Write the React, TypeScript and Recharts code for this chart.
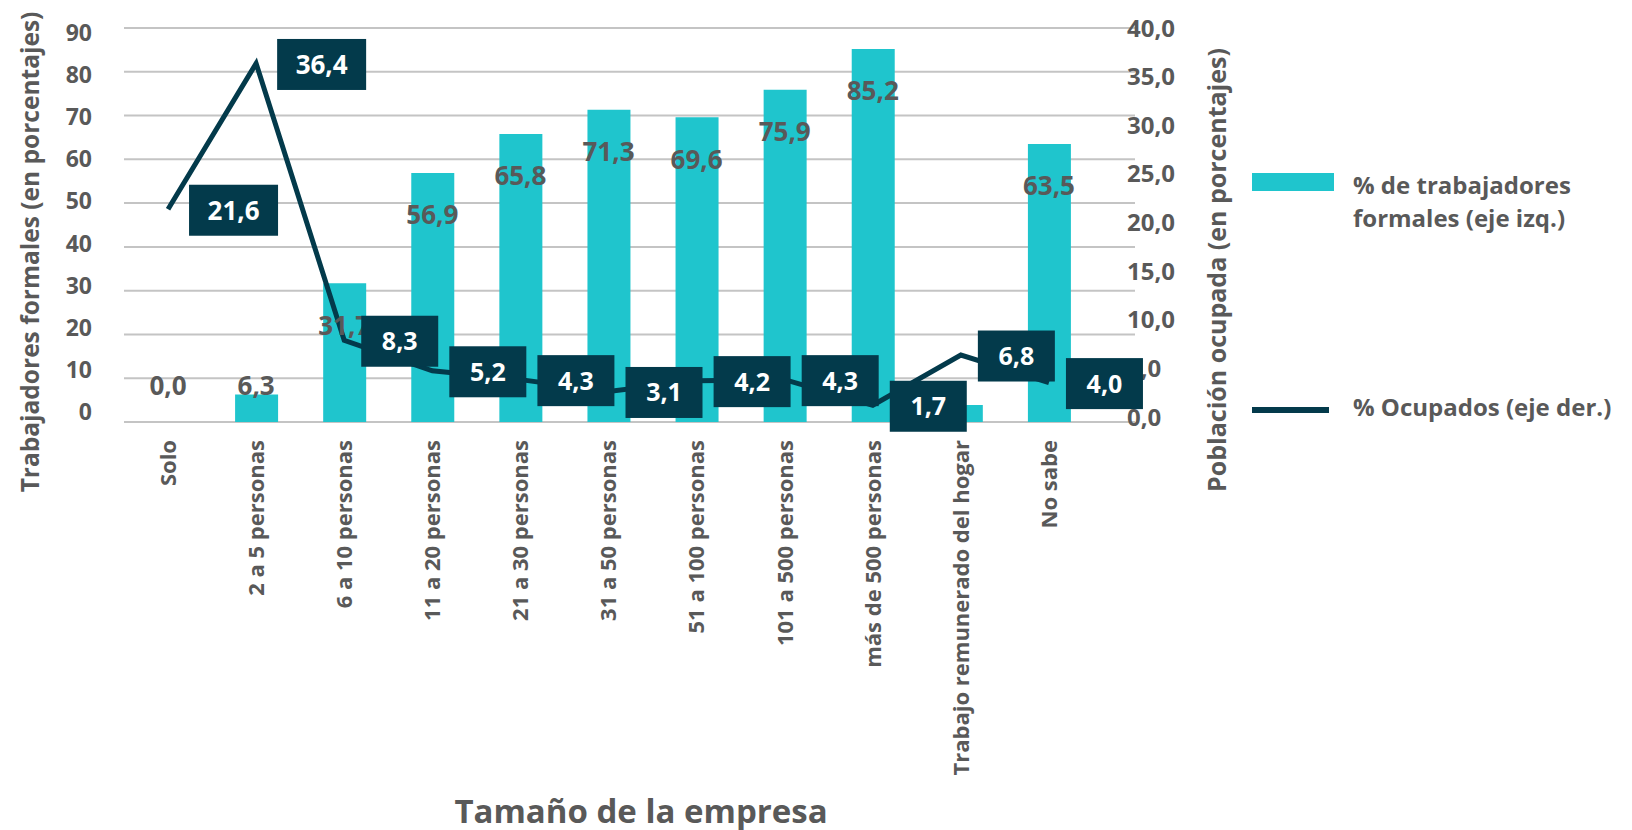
import { Bar, CartesianGrid, ComposedChart, LabelList, Line, XAxis, YAxis } from "recharts"

const categories = [
  "Solo",
  "2 a 5 personas",
  "6 a 10 personas",
  "11 a 20 personas",
  "21 a 30 personas",
  "31 a 50 personas",
  "51 a 100 personas",
  "101 a 500 personas",
  "más de 500 personas",
  "Trabajo remunerado del hogar",
  "No sabe",
]

// % de trabajadores formales (eje izq.)
const formales = [0.0, 6.3, 31.7, 56.9, 65.8, 71.3, 69.6, 75.9, 85.2, 3.9, 63.5]
// % Ocupados (eje der.)
const ocupados = [21.6, 36.4, 8.3, 5.2, 4.3, 3.1, 4.2, 4.3, 1.7, 6.8, 4.0]

const leftTicks = [0, 10, 20, 30, 40, 50, 60, 70, 80, 90]
const rightTicks = [0, 5, 10, 15, 20, 25, 30, 35, 40]

// bar label not printed in the original (covered)
const hiddenBarLabels = ["Trabajo remunerado del hogar"]

const data = categories.map((name, i) => ({
  name,
  formales: formales[i],
  ocupados: ocupados[i],
  barLabel: hiddenBarLabels.includes(name) ? null : formales[i],
}))

const CYAN = "#1fc5cd"
const DARK = "#033a4b"
const GRAY = "#595959"
const FONT = "'Open Sans', sans-serif"

const fmt = (v: number) => v.toFixed(1).replace(".", ",")

const PLOT_TOP = 28

function XTick(props: any) {
  const { x, y, payload } = props
  const ty = y + 18
  return (
    <text
      x={x}
      y={ty}
      transform={`rotate(-90, ${x}, ${ty})`}
      textAnchor="end"
      dy="0.36em"
      fill={GRAY}
      fontSize={22}
      fontWeight={700}
      fontFamily={FONT}
    >
      {payload.value}
    </text>
  )
}

function LeftTick(props: any) {
  const { x, y, payload } = props
  // labels sit on a slightly tighter scale than the gridlines
  const ly = PLOT_TOP + 4.5 + (y - PLOT_TOP) * 0.963
  return (
    <text x={x} y={ly} dy="0.36em" textAnchor="end" fill={GRAY} fontSize={23} fontWeight={700} fontFamily={FONT}>
      {payload.value}
    </text>
  )
}

function RightTick(props: any) {
  const { x, y, payload } = props
  const ly = PLOT_TOP + (y - PLOT_TOP) * 0.987
  return (
    <text x={x - 8} y={ly} dy="0.36em" textAnchor="start" fill={GRAY} fontSize={24} fontWeight={700} fontFamily={FONT}>
      {fmt(payload.value)}
    </text>
  )
}

// label of each bar, placed from the point at the top of the bar
function BarValue(props: any) {
  const { x, y, value } = props
  if (value === null || value === undefined) return null
  const ly = Math.min(y + 42, 386)
  return (
    <text x={x} y={ly} dy="0.36em" textAnchor="middle" fill={GRAY} fontSize={26} fontWeight={700} fontFamily={FONT}>
      {fmt(Number(value))}
    </text>
  )
}

function LineValue(props: any) {
  const { x, y, value } = props
  const wide = value >= 10
  const w = wide ? 89 : 77
  const h = 51
  const left = x + (wide ? 21 : 17)
  const cy = y + 1
  return (
    <g>
      <rect x={left} y={cy - h / 2} width={w} height={h} fill={DARK} />
      <text
        x={left + w / 2}
        y={cy}
        dy="0.36em"
        textAnchor="middle"
        fill="#ffffff"
        fontSize={wide ? 26 : 25}
        fontWeight={700}
        fontFamily={FONT}
      >
        {fmt(value)}
      </text>
    </g>
  )
}

const textStyle: React.CSSProperties = {
  position: "absolute",
  fontFamily: FONT,
  fontWeight: 700,
  color: GRAY,
  whiteSpace: "nowrap",
}

export default function App() {
  return (
    <div style={{ position: "absolute", left: 0, top: 0, width: 1632, height: 830, background: "#fff" }}>
      <ComposedChart width={1632} height={830} data={data} margin={{ top: PLOT_TOP, right: 0, left: 0, bottom: 0 }}>
        <CartesianGrid yAxisId="left" vertical={false} stroke="#c4c4c4" strokeWidth={2} />
        <XAxis
          dataKey="name"
          height={408}
          interval={0}
          axisLine={false}
          tickLine={false}
          tickSize={0}
          tickMargin={0}
          padding={{ left: 0, right: 42 }}
          tick={XTick}
        />
        <YAxis
          yAxisId="left"
          orientation="left"
          width={124}
          domain={[0, 90]}
          ticks={leftTicks}
          axisLine={false}
          tickLine={false}
          tickSize={0}
          tickMargin={32}
          tick={LeftTick}
        />
        <YAxis
          yAxisId="right"
          orientation="right"
          width={497}
          domain={[0, 40]}
          ticks={rightTicks}
          axisLine={false}
          tickLine={false}
          tickSize={0}
          tickMargin={0}
          tick={RightTick}
        />
        <Bar yAxisId="left" dataKey="formales" fill={CYAN} barSize={43} isAnimationActive={false} />
        {/* invisible series carrying the bar value labels */}
        <Line
          yAxisId="left"
          dataKey="formales"
          stroke="none"
          dot={false}
          activeDot={false}
          legendType="none"
          isAnimationActive={false}
        >
          <LabelList dataKey="barLabel" content={BarValue} />
        </Line>
        <Line
          yAxisId="right"
          type="linear"
          dataKey="ocupados"
          stroke={DARK}
          strokeWidth={5}
          dot={false}
          activeDot={false}
          isAnimationActive={false}
        >
          <LabelList dataKey="ocupados" content={LineValue} />
        </Line>
      </ComposedChart>

      {/* axis titles */}
      <div
        style={{
          ...textStyle,
          fontSize: 24.5,
          left: 29,
          top: 252,
          transform: "translate(-50%, -50%) rotate(-90deg)",
        }}
      >
        Trabajadores formales (en porcentajes)
      </div>
      <div
        style={{
          ...textStyle,
          fontSize: 25,
          left: 1216,
          top: 270,
          transform: "translate(-50%, -50%) rotate(-90deg)",
        }}
      >
        Población ocupada (en porcentajes)
      </div>
      <div style={{ ...textStyle, fontSize: 33, left: 641, top: 810, transform: "translate(-50%, -50%)" }}>
        Tamaño de la empresa
      </div>

      {/* legend */}
      <div style={{ position: "absolute", left: 1252, top: 173, width: 82, height: 18, background: CYAN }} />
      <div style={{ ...textStyle, fontSize: 24, left: 1353, top: 168, lineHeight: "33px" }}>
        % de trabajadores
        <br />
        formales (eje izq.)
      </div>
      <div style={{ position: "absolute", left: 1252, top: 407, width: 77, height: 6, background: DARK }} />
      <div style={{ ...textStyle, fontSize: 24, left: 1353, top: 390, lineHeight: "33px" }}>% Ocupados (eje der.)</div>
    </div>
  )
}
